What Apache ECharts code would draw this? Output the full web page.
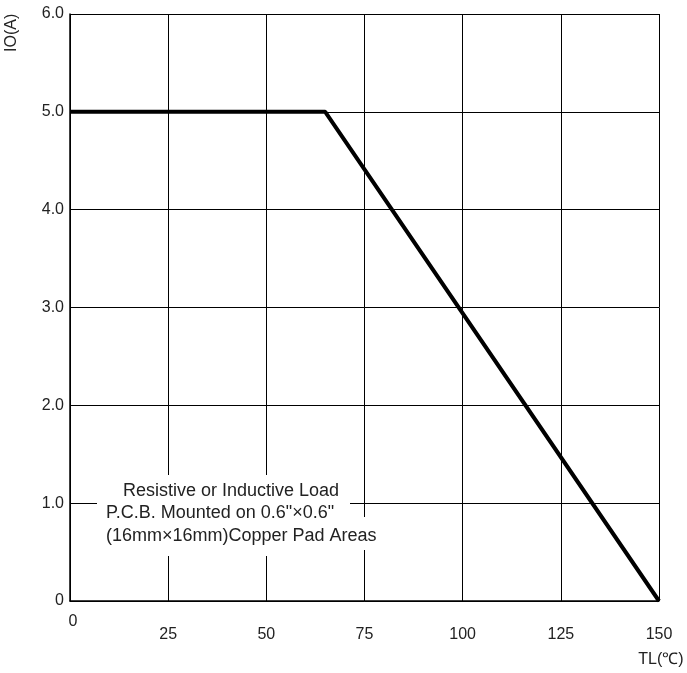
<!DOCTYPE html>
<html>
<head>
<meta charset="utf-8">
<script src="https://cdn.jsdelivr.net/npm/echarts@6/dist/echarts.min.js"></script>
<style>
  html, body { margin: 0; padding: 0; background: #fff; }
  #chart { width: 687px; height: 673px; }
</style>
</head>
<body>
<div id="chart"></div>
<script>
// derating curve: case temperature vs average forward current
const curveTemp = [0, 65, 150];
const curveCurrent = [5.0, 5.0, 0];
const xTicks = [0, 25, 50, 75, 100, 125, 150];
const yTicks = ['0', '1.0', '2.0', '3.0', '4.0', '5.0', '6.0'];
const noteLines = [
  'Resistive or Inductive Load',
  'P.C.B. Mounted on 0.6"×0.6"',
  '(16mm×16mm)Copper Pad Areas'
];

const chart = echarts.init(document.getElementById('chart'));
const font = 'Liberation Sans, Arial, sans-serif';

const option = {
  animation: false,
  grid: { left: 70, right: 28, top: 14, bottom: 72 },
  xAxis: {
    type: 'value',
    min: 0,
    max: 150,
    interval: 25,
    axisLine: { lineStyle: { color: '#000', width: 1.5 } },
    axisTick: { show: false },
    splitLine: { lineStyle: { color: '#000', width: 1 } },
    axisLabel: {
      margin: 13,
      color: '#222',
      fontFamily: font,
      fontSize: 16,
      formatter: (v) => v === 0 ? '{z|0}' : '{n|' + v + '}',
      rich: {
        z: { fontFamily: font, fontSize: 16, color: '#222', padding: [0, 0, 0, 6] },
        n: { fontFamily: font, fontSize: 16, color: '#222', padding: [13, 0, 0, 0] }
      }
    }
  },
  yAxis: {
    type: 'value',
    min: 0,
    max: 6,
    interval: 1,
    axisLine: { show: true, lineStyle: { color: '#000', width: 1.5 } },
    axisTick: { show: false },
    splitLine: { lineStyle: { color: '#000', width: 1 } },
    axisLabel: {
      margin: 6,
      color: '#222',
      fontFamily: font,
      fontSize: 16,
      formatter: (v) => yTicks[Math.round(v)]
    }
  },
  series: [
    {
      type: 'line',
      data: curveTemp.map((t, i) => [t, curveCurrent[i]]),
      symbol: 'none',
      lineStyle: { color: '#000', width: 4 },
      z: 5
    }
  ],
  graphic: [
    // white backing for the note, hides the grid behind it
    {
      type: 'rect',
      shape: { x: 97, y: 475, width: 253, height: 81 },
      style: { fill: '#fff' },
      z: 3
    },
    {
      type: 'rect',
      shape: { x: 349, y: 517, width: 37, height: 33 },
      style: { fill: '#fff' },
      z: 3
    },
    {
      type: 'text',
      left: 123,
      top: 482,
      z: 4,
      style: { text: noteLines[0], font: '18px ' + font, fill: '#222' }
    },
    {
      type: 'text',
      left: 106,
      top: 504,
      z: 4,
      style: { text: noteLines[1], font: '18px ' + font, fill: '#222' }
    },
    {
      type: 'text',
      left: 106,
      top: 527,
      z: 4,
      style: { text: noteLines[2], font: '18px ' + font, fill: '#222' }
    },
    {
      type: 'text',
      x: 661,
      y: 652,
      z: 4,
      style: { text: 'TL(℃)', font: '16px ' + font, fill: '#222', align: 'center' }
    },
    {
      type: 'text',
      x: 4,
      y: 52,
      rotation: Math.PI / 2,
      z: 4,
      style: { text: 'IO(A)', font: '16px ' + font, fill: '#222' }
    }
  ]
};

chart.setOption(option);
</script>
</body>
</html>
